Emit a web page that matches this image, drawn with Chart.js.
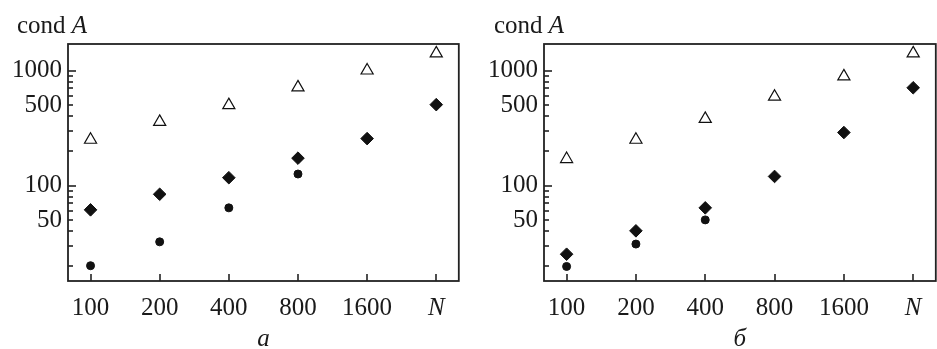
<!DOCTYPE html>
<html>
<head>
<meta charset="utf-8">
<script src="https://cdn.jsdelivr.net/npm/chart.js@4.4.1/dist/chart.umd.min.js"></script>
<style>
  body { margin: 0; background: #fff; }
  #wrap { position: relative; width: 937px; height: 349px; overflow: hidden; }
  canvas { position: absolute; top: 0; }
  .lab { position: absolute; top: 12px; font: 25px/25px "Liberation Serif", serif; color: #1a1a1a; white-space: nowrap; }
</style>
</head>
<body>
<div id="wrap">
  <canvas id="chartA" width="467" height="349" style="left:0"></canvas>
  <canvas id="chartB" width="477" height="349" style="left:467px"></canvas>
  <div class="lab" style="left:17px">cond <i>A</i></div>
  <div class="lab" style="left:494px">cond <i>A</i></div>
</div>
<script>
const xLabels = ['100', '200', '400', '800', '1600', 'N'];
const yTicks = [20, 30, 40, 50, 60, 70, 80, 90, 100, 200, 300, 400, 500, 600, 700, 800, 900, 1000];
const yLabelled = [50, 100, 500, 1000];

// панель а
const triA = [250, 358, 500, 714, 1000, 1410];
const diamondA = [61.5, 84, 117, 173, 256, 505];
const circleA = [20.1, 32.4, 64, 126, null, null];

// панель б
const triB = [170, 250, 380, 592, 890, 1410];
const diamondB = [25.3, 40.4, 64, 120, 289, 708];
const circleB = [19.8, 31, 50.3, null, null, null];

const FONT = 'Liberation Serif';
const INK = '#1a1a1a';

const toPoints = arr => arr.map((v, i) => ({ x: i, y: v })).filter(p => p.y !== null);

// рамка и внутренние засечки
const frameTicks = {
  id: 'frameTicks',
  afterDraw(chart) {
    const { ctx, chartArea: a } = chart;
    const x = chart.scales.x, y = chart.scales.y;
    ctx.save();
    ctx.strokeStyle = '#222';
    ctx.lineWidth = 1.8;
    ctx.strokeRect(a.left, a.top, a.right - a.left, a.bottom - a.top);
    ctx.lineWidth = 1.6;
    yTicks.forEach(v => {
      const py = Math.round(y.getPixelForValue(v));
      const len = [10, 100, 1000].includes(v) ? 8 : 5;
      ctx.beginPath();
      ctx.moveTo(a.left, py);
      ctx.lineTo(a.left + len, py);
      ctx.stroke();
    });
    xLabels.forEach((_, i) => {
      const px = Math.round(x.getPixelForValue(i));
      ctx.beginPath();
      ctx.moveTo(px, a.bottom);
      ctx.lineTo(px, a.bottom - 7);
      ctx.stroke();
    });
    ctx.restore();
  }
};

function makePanel(id, axisWidth, tri, dia, circ, letter) {
  new Chart(document.getElementById(id), {
    type: 'scatter',
    data: {
      datasets: [
        { data: toPoints(tri), pointStyle: 'triangle', pointRadius: 7, backgroundColor: '#fff', borderColor: '#111', borderWidth: 1.2 },
        { data: toPoints(dia), pointStyle: 'rectRot', pointRadius: 6.3, backgroundColor: '#111', borderColor: '#111', borderWidth: 1 },
        { data: toPoints(circ), pointStyle: 'circle', pointRadius: 4, backgroundColor: '#111', borderColor: '#111', borderWidth: 1 }
      ]
    },
    options: {
      responsive: false,
      animation: false,
      devicePixelRatio: 1,
      layout: { padding: { top: 44, right: 5, left: 0, bottom: 0 } },
      plugins: { legend: { display: false }, tooltip: { enabled: false } },
      scales: {
        x: {
          type: 'linear',
          min: -0.326,
          max: 5.326,
          grid: { display: false, drawTicks: false },
          border: { display: false },
          afterBuildTicks: s => { s.ticks = xLabels.map((_, i) => ({ value: i })); },
          afterFit: s => { s.height = 68; },
          ticks: {
            autoSkip: false,
            maxRotation: 0,
            padding: 12,
            color: INK,
            font: c => ({ family: FONT, size: 25, style: c.index === 5 ? 'italic' : 'normal' }),
            callback: v => xLabels[v] ?? ''
          },
          title: { display: true, text: letter, color: INK, font: { family: FONT, size: 25, style: 'italic' }, padding: { top: 0, bottom: -5 } }
        },
        y: {
          type: 'logarithmic',
          min: 14.8,
          max: 1700,
          grid: { display: false, drawTicks: false },
          border: { display: false },
          afterBuildTicks: s => { s.ticks = yTicks.map(v => ({ value: v })); },
          afterFit: s => { s.width = axisWidth; },
          ticks: {
            autoSkip: false,
            padding: 6,
            color: INK,
            font: { family: FONT, size: 25 },
            callback: v => yLabelled.includes(v) ? String(v) : ''
          }
        }
      }
    },
    plugins: [frameTicks]
  });
}

makePanel('chartA', 68, triA, diamondA, circleA, 'а');
makePanel('chartB', 77, triB, diamondB, circleB, 'б');
</script>
</body>
</html>
